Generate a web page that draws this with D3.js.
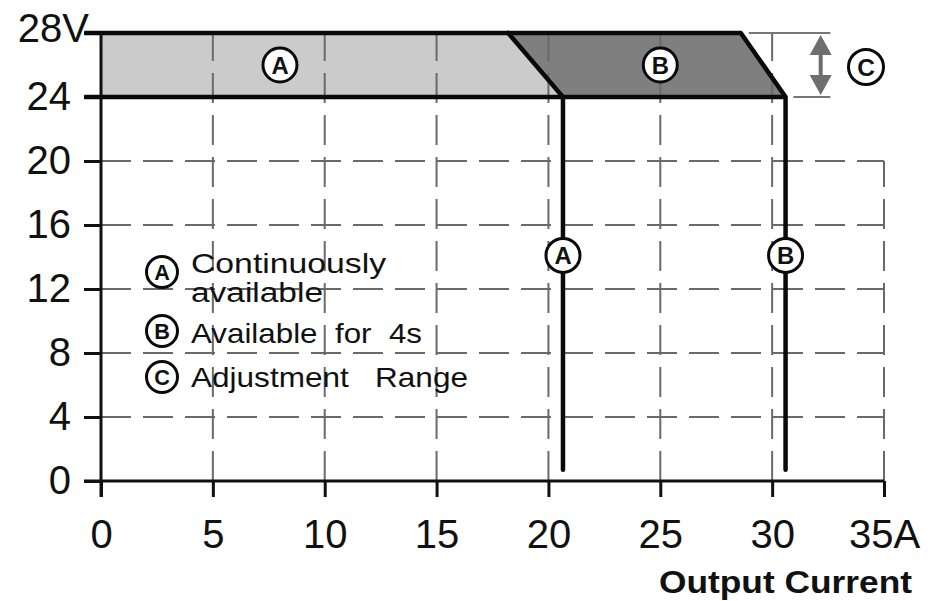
<!DOCTYPE html>
<html><head><meta charset="utf-8">
<script src="https://cdn.jsdelivr.net/npm/d3@7"></script>
<style>html,body{margin:0;padding:0;background:#fff}svg{display:block}text{font-family:"Liberation Sans",Arial,Helvetica,sans-serif;fill:#111}</style>
</head><body><svg id="c" width="940" height="601"></svg>
<script>
// ---- data ----
const xTicks = [0, 5, 10, 15, 20, 25, 30, 35];
const xTickLabels = ["0", "5", "10", "15", "20", "25", "30", "35A"];
const yTicks = [0, 4, 8, 12, 16, 20, 24, 28];
const yTickLabels = ["0", "4", "8", "12", "16", "20", "24", "28V"];
const regionA = [[0, 24], [0, 28], [18.2, 28], [20.65, 24]];
const regionB = [[18.2, 28], [28.6, 28], [30.6, 24], [20.65, 24]];
const limitA = [[18.2, 28], [20.65, 24], [20.65, 0.7]];
const limitB = [[28.6, 28], [30.6, 24], [30.6, 0.7]];
const topLine = [[-0.75, 28], [28.6, 28]];
const baseLine = [[-0.75, 24], [30.6, 24]];
const markers = [{k: "A", x: 8, y: 26}, {k: "B", x: 25, y: 26}, {k: "A", x: 20.65, y: 14.1}, {k: "B", x: 30.6, y: 14.1}];
const legendItems = [
  {k: "A", lines: ["Continuously", "available"]},
  {k: "B", lines: ["Available  for  4s"]},
  {k: "C", lines: ["Adjustment   Range"]}
];
const xTitle = "Output Current";

// ---- scales ----
const svg = d3.select("#c");
const x = d3.scaleLinear().domain([0, 35]).range([101, 884]);
const y = d3.scaleLinear().domain([0, 28]).range([481, 33]);
const line = d3.line().x(d => x(d[0])).y(d => y(d[1]));

// fills
svg.append("path").attr("d", line(regionA) + "Z").attr("fill", "#cbcbcb");
svg.append("path").attr("d", line(regionB) + "Z").attr("fill", "#7f7f7f");

// grid
const grid = svg.append("g").attr("stroke", "#6a6a6a").attr("stroke-width", 2).attr("stroke-dasharray", "30,12").attr("fill", "none");
yTicks.filter(v => v > 0 && v < 24).forEach(v => {
  grid.append("line").attr("x1", x(0)).attr("x2", x(35)).attr("y1", y(v)).attr("y2", y(v));
});
xTicks.filter(v => v > 0).forEach(v => {
  grid.append("line").attr("x1", x(v)).attr("x2", x(v)).attr("y1", y(0)).attr("y2", y(v === 35 ? 20 : 28));
});

// axes
const xAxis = d3.axisBottom(x).tickValues(xTicks).tickFormat((d, i) => xTickLabels[i]).tickSize(16).tickPadding(23);
const gx = svg.append("g").attr("transform", `translate(0,${y(0)})`).call(xAxis);
gx.select(".domain").remove();
gx.append("line").attr("x1", x(0) - 17).attr("x2", x(35)).attr("y1", 0).attr("y2", 0).attr("stroke", "#111").attr("stroke-width", 3);
gx.selectAll(".tick line").attr("stroke", "#111").attr("stroke-width", 3);
gx.selectAll(".tick text").attr("font-size", 40).attr("fill", "#111").attr("dy", "0.71em");

const yAxis = d3.axisLeft(y).tickValues(yTicks).tickFormat((d, i) => yTickLabels[i]).tickSize(17).tickPadding(13);
const gy = svg.append("g").attr("transform", `translate(${x(0)},0)`).call(yAxis);
gy.select(".domain").remove();
gy.append("line").attr("x1", 0).attr("x2", 0).attr("y1", y(28)).attr("y2", y(0) + 16).attr("stroke", "#111").attr("stroke-width", 3);
gy.selectAll(".tick line").attr("stroke", "#111").attr("stroke-width", 3);
gy.selectAll(".tick text").attr("font-size", 40).attr("fill", "#111");
gy.selectAll(".tick").filter(d => d === 28).select("text").attr("x", -12).attr("dy", "0.2em");

// thick curves
const thick = svg.append("g").attr("fill", "none").attr("stroke", "#0a0a0a").attr("stroke-width", 4.5);
thick.append("path").attr("d", line(topLine));
thick.append("path").attr("d", line(baseLine));
thick.append("path").attr("d", line(limitA)).attr("stroke-linejoin", "miter").attr("stroke-linecap", "round");
thick.append("path").attr("d", line(limitB)).attr("stroke-linejoin", "miter").attr("stroke-linecap", "round");

// C adjustment range
const cg = svg.append("g");
cg.append("line").attr("x1", x(28.95)).attr("x2", x(32.6)).attr("y1", y(28)).attr("y2", y(28)).attr("stroke", "#777").attr("stroke-width", 2);
cg.append("line").attr("x1", x(30.95)).attr("x2", x(32.6)).attr("y1", y(24)).attr("y2", y(24)).attr("stroke", "#777").attr("stroke-width", 2);
const ax = x(32.17);
cg.append("line").attr("x1", ax).attr("x2", ax).attr("y1", y(28) + 14).attr("y2", y(24) - 14).attr("stroke", "#6e6e6e").attr("stroke-width", 4);
cg.append("path").attr("d", `M${ax},${y(28) + 2}L${ax - 11},${y(28) + 22}L${ax + 11},${y(28) + 22}Z`).attr("fill", "#6e6e6e");
cg.append("path").attr("d", `M${ax},${y(24) - 2}L${ax - 11},${y(24) - 22}L${ax + 11},${y(24) - 22}Z`).attr("fill", "#6e6e6e");

function badge(g, cx, cy, k, r) {
  g.append("circle").attr("cx", cx).attr("cy", cy).attr("r", r).attr("fill", "#fff").attr("stroke", "#0a0a0a").attr("stroke-width", 3);
  g.append("text").attr("x", cx).attr("y", cy).attr("dy", "0.36em").attr("text-anchor", "middle").attr("font-size", r * 1.4).attr("font-weight", "bold").text(k);
}
const mg = svg.append("g");
markers.forEach(m => badge(mg, x(m.x), y(m.y), m.k, 17));
badge(mg, 866, 67, "C", 17.5);

// legend
const lg = svg.append("g");
const legendCircleY = [272, 331, 377];
const legendBase = [[273, 302], [343], [387]];
const legendLen = [[195, 132], [231], [277]];
legendItems.forEach((it, i) => {
  badge(lg, 162, legendCircleY[i], it.k, 15.5);
  it.lines.forEach((t, j) => {
    lg.append("text").attr("x", 191).attr("y", legendBase[i][j]).attr("font-size", 28)
      .attr("textLength", legendLen[i][j]).attr("lengthAdjust", "spacingAndGlyphs")
      .style("white-space", "pre").text(t);
  });
});

// x title
svg.append("text").attr("x", 659).attr("y", 593).attr("font-size", 32).attr("font-weight", "bold")
  .attr("textLength", 253).attr("lengthAdjust", "spacingAndGlyphs").text(xTitle);
</script></body></html>
